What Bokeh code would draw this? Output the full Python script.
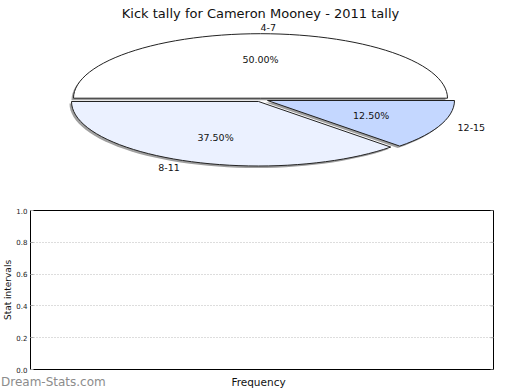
import math
from bokeh.plotting import figure
from bokeh.layouts import column
from bokeh.models import Range1d, ColumnDataSource, FixedTicker, PrintfTickFormatter
from bokeh.core.properties import value
from bokeh.embed import file_html
from bokeh.resources import INLINE

# ---- data ----
title_text = "Kick tally for Cameron Mooney - 2011 tally"
categories = ["4-7", "8-11", "12-15"]
counts = [4, 3, 1]
slice_colors = ["#FFFFFF", "#EBF1FF", "#C4D7FF"]
y_ticks = [0.0, 0.2, 0.4, 0.6, 0.8, 1.0]
x_label = "Frequency"
y_label = "Stat intervals"
watermark = "Dream-Stats.com"

FONT = value("DejaVu Sans")
W = 520

# ---- pie (pseudo-3D, elliptical) ----
CX, CY, RX, RY = 260.0, 99.5, 187.0, 64.5
EXPLODE = [(0.0, -1.8), (-2.0, 1.5), (7.0, 0.5)]
SHADOW = (-2.0, 2.0)

p1 = figure(width=W, height=190, x_range=Range1d(0, W), y_range=Range1d(190, 0),
            output_backend="svg", toolbar_location=None,
            x_axis_location=None, y_axis_location=None,
            min_border=0, outline_line_color=None, background_fill_color="white",
            border_fill_color="white")
p1.frame_align = False
p1.grid.grid_line_color = None

total = float(sum(counts))
wx, wy, sx, sy = [], [], [], []
lab_x, lab_y, lab_t, lab_a = [], [], [], []
pct_x, pct_y, pct_t = [], [], []
a0 = 0.0
for i, c in enumerate(counts):
    a1 = a0 + 2 * math.pi * c / total
    ox, oy = EXPLODE[i]
    n = max(8, int(120 * c / total))
    ts = [a0 + (a1 - a0) * k / n for k in range(n + 1)]
    xs = [CX + ox] + [CX + ox + RX * math.cos(t) for t in ts]
    ys = [CY + oy] + [CY + oy - RY * math.sin(t) for t in ts]
    wx.append(xs); wy.append(ys)
    sx.append([x + SHADOW[0] for x in xs]); sy.append([y + SHADOW[1] for y in ys])
    m = (a0 + a1) / 2
    cm, sm = math.cos(m), math.sin(m)
    lab_x.append(CX + ox + 1.1 * RX * cm)
    lab_y.append(CY + oy - 1.1 * RY * sm)
    lab_t.append(categories[i])
    lab_a.append("left" if cm > 0 else "right")
    pct_x.append(CX + ox + 0.6 * RX * cm)
    pct_y.append(CY + oy - 0.6 * RY * sm)
    pct_t.append("%.2f%%" % (100.0 * c / total))
    a0 = a1

p1.patches(xs=sx, ys=sy, fill_color="#a0a0a0", line_color=None)
p1.patches(xs=wx, ys=wy, fill_color=slice_colors, line_color="#222222", line_width=1)

lab_src = ColumnDataSource(dict(x=lab_x, y=lab_y, text=lab_t, align=lab_a))
p1.text(x="x", y="y", text="text", text_align="align", text_baseline="middle", source=lab_src,
        text_font=FONT, text_font_size=value("9.5px"), text_color="#111111")
p1.text(x=pct_x, y=pct_y, text=pct_t, text_align="center", text_baseline="middle",
        text_font=FONT, text_font_size=value("9.5px"), text_color="#111111")
p1.text(x=[260], y=[13], text=[title_text], text_align="center", text_baseline="alphabetic",
        text_font=FONT, text_font_size=value("13px"), text_color="#111111")

# ---- empty stats chart ----
p2 = figure(width=W, height=184, x_range=Range1d(0, 1), y_range=Range1d(0, 1),
            output_backend="svg", toolbar_location=None, x_axis_location=None,
            min_border_left=25, min_border_right=27, min_border_top=20, min_border_bottom=5,
            outline_line_color="black", outline_line_width=1, outline_line_alpha=1.0,
            background_fill_color="white", border_fill_color="white")
p2.xgrid.grid_line_color = None
p2.ygrid.ticker = FixedTicker(ticks=y_ticks)
p2.ygrid.grid_line_color = "#bbbbbb"
p2.ygrid.grid_line_dash = "1 2"
p2.ygrid.grid_line_width = 1

ya = p2.yaxis[0]
ya.ticker = FixedTicker(ticks=y_ticks)
ya.formatter = PrintfTickFormatter(format="%.1f")
ya.axis_line_color = None
ya.major_tick_in = 3
ya.major_tick_out = 0
ya.major_tick_line_color = "#aaaaaa"
ya.minor_tick_line_color = None
ya.major_label_standoff = 3
ya.major_label_text_font = "DejaVu Sans"
ya.major_label_text_font_size = "7px"
ya.major_label_text_color = "#222222"
ya.axis_label = y_label
ya.axis_label_standoff = 0
ya.axis_label_text_font = "DejaVu Sans"
ya.axis_label_text_font_size = "9px"
ya.axis_label_text_font_style = "normal"
ya.axis_label_text_color = "#111111"

# small tick marks on the right edge, at the same tick values
tick_len = 3.0 / 468.0
p2.segment(x0=[1 - tick_len] * len(y_ticks), x1=[1.0] * len(y_ticks), y0=y_ticks, y1=y_ticks,
           line_color="#aaaaaa", line_width=1)

# ---- strip under the chart: x label and watermark ----
p3 = figure(width=W, height=16, x_range=Range1d(0, W), y_range=Range1d(390, 374),
            output_backend="svg", toolbar_location=None,
            x_axis_location=None, y_axis_location=None,
            min_border=0, outline_line_color=None, background_fill_color="white",
            border_fill_color="white")
p3.frame_align = False
p3.grid.grid_line_color = None
p3.text(x=[258], y=[381], text=[x_label], text_align="center", text_baseline="middle",
        text_font=FONT, text_font_size=value("10.5px"), text_color="#111111")
p3.text(x=[0.5], y=[381.5], text=[watermark], text_align="left", text_baseline="middle",
        text_font=FONT, text_font_size=value("12px"), text_color="#8c8c8c")

layout = column(p1, p2, p3)
open("out.html", "w").write(file_html(layout, INLINE))
